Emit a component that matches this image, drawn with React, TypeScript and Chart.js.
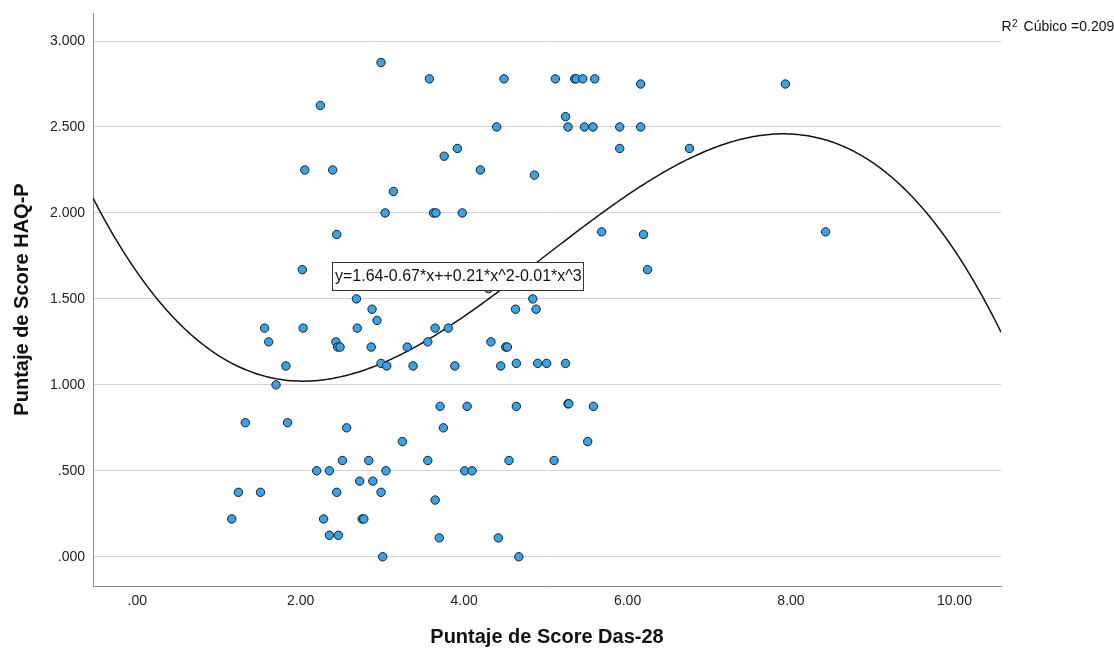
import { useEffect, useRef } from "react";
import { Chart, registerables } from "chart.js";

Chart.register(...registerables);

// X values: Puntaje de Score Das-28
const dasScores: number[] = [
  2.983, 3.575, 2.24, 2.05, 2.391, 3.134, 3.033, 3.625, 3.655, 2.441,
  2.02, 3.756, 3.917, 4.488, 5.116, 5.352, 5.372, 5.452, 5.598, 6.16,
  5.241, 4.398, 5.271, 5.472, 5.577, 5.904, 6.16, 5.904, 6.757, 4.198,
  4.86, 3.977, 5.683, 6.195, 6.245, 4.298, 4.84, 2.682, 2.873, 2.933,
  1.558, 2.03, 2.692, 3.645, 3.806, 1.608, 2.431, 2.451, 2.481, 2.863,
  3.304, 3.555, 1.819, 2.983, 3.053, 3.375, 1.698, 1.322, 1.839, 2.562,
  3.244, 3.706, 3.746, 2.511, 2.833, 3.555, 2.195, 2.351, 3.043, 2.722,
  2.883, 1.237, 1.508, 2.441, 2.983, 3.645, 1.156, 2.28, 2.752, 2.772,
  2.351, 2.461, 3.696, 3.003, 4.629, 4.88, 4.328, 4.509, 4.529, 3.886,
  4.448, 4.639, 4.9, 5.01, 5.241, 4.037, 4.639, 5.271, 5.281, 5.582,
  5.512, 4.549, 5.101, 4.007, 4.097, 4.418, 4.669, 7.931, 8.423,
];

// Y values: Puntaje de Score HAQ-P
const haqScores: number[] = [
  2.875, 2.78, 2.625, 2.25, 2.25, 2.125, 2.0, 2.0, 2.0, 1.875,
  1.67, 2.33, 2.375, 2.78, 2.78, 2.78, 2.78, 2.78, 2.78, 2.75,
  2.56, 2.5, 2.5, 2.5, 2.5, 2.5, 2.5, 2.375, 2.375, 2.25,
  2.22, 2.0, 1.89, 1.875, 1.67, 1.56, 1.5, 1.5, 1.44, 1.375,
  1.33, 1.33, 1.33, 1.33, 1.33, 1.25, 1.25, 1.22, 1.22, 1.22,
  1.22, 1.25, 1.11, 1.125, 1.11, 1.11, 1.0, 0.78, 0.78, 0.75,
  0.67, 0.875, 0.75, 0.56, 0.56, 0.56, 0.5, 0.5, 0.5, 0.44,
  0.44, 0.375, 0.375, 0.375, 0.375, 0.33, 0.22, 0.22, 0.22, 0.22,
  0.125, 0.125, 0.11, 0.0, 1.44, 1.44, 1.25, 1.22, 1.22, 1.11,
  1.11, 1.125, 1.125, 1.125, 1.125, 0.875, 0.875, 0.89, 0.89, 0.875,
  0.67, 0.56, 0.56, 0.5, 0.5, 0.11, 0.0, 2.75, 1.89,
];

const xTickValues: number[] = [0, 2, 4, 6, 8, 10];
const yTickValues: number[] = [0, 0.5, 1, 1.5, 2, 2.5, 3];

// Cubic fit coefficients (constant, x, x^2, x^3) as drawn by the fit line
const cubicCoefficients: number[] = [1.653, -0.681, 0.211, -0.01416];

const fitEquationText = "y=1.64-0.67*x++0.21*x^2-0.01*x^3";
const rSquaredText = " Cúbico =0.209";
const xAxisTitle = "Puntaje de Score Das-28";
const yAxisTitle = "Puntaje de Score HAQ-P";

const X_MIN = -0.542;
const X_MAX = 10.57;
const Y_MIN = -0.17;
const Y_MAX = 3.163;

const FONT = "Arial, 'Liberation Sans', sans-serif";

function cubic(x: number): number {
  return (
    cubicCoefficients[0] +
    cubicCoefficients[1] * x +
    cubicCoefficients[2] * x * x +
    cubicCoefficients[3] * x * x * x
  );
}

const annotationsPlugin = {
  id: "spssAnnotations",
  afterDatasetsDraw(chart: any) {
    const { ctx, chartArea, scales } = chart;
    const xs = scales.x;
    const ys = scales.y;
    ctx.save();
    // equation label box
    ctx.font = `16px ${FONT}`;
    const tw = ctx.measureText(fitEquationText).width;
    const bx = Math.round(xs.getPixelForValue(2.379)) + 0.5;
    const by = Math.round(ys.getPixelForValue(1.713)) + 0.5;
    const bw = Math.round(tw + 4);
    const bh = 28;
    ctx.fillStyle = "#ffffff";
    ctx.fillRect(bx, by, bw, bh);
    ctx.strokeStyle = "#333333";
    ctx.lineWidth = 1;
    ctx.strokeRect(bx, by, bw, bh);
    ctx.fillStyle = "#111111";
    ctx.textBaseline = "middle";
    ctx.textAlign = "left";
    ctx.fillText(fitEquationText, bx + 2.5, by + bh / 2 + 0.5);

    // R squared label
    const rx = chartArea.right + 0.5;
    const baseY = 31;
    ctx.textBaseline = "alphabetic";
    ctx.font = `14px ${FONT}`;
    ctx.fillStyle = "#111111";
    ctx.fillText("R", rx, baseY);
    const rw = ctx.measureText("R").width;
    ctx.font = `10px ${FONT}`;
    ctx.fillText("2", rx + rw + 0.3, baseY - 4);
    const sw = ctx.measureText("2").width;
    ctx.font = `14px ${FONT}`;
    ctx.fillText(rSquaredText, rx + rw + sw + 2.5, baseY);
    ctx.restore();
  },
};

export default function App() {
  const canvasRef = useRef<HTMLCanvasElement | null>(null);

  useEffect(() => {
    if (!canvasRef.current) return;

    const points = dasScores.map((x, i) => ({ x, y: haqScores[i] }));
    const curve: { x: number; y: number }[] = [];
    const steps = 400;
    for (let i = 0; i <= steps; i++) {
      const x = X_MIN + ((X_MAX - X_MIN) * i) / steps;
      curve.push({ x, y: cubic(x) });
    }

    const chart = new Chart(canvasRef.current, {
      type: "scatter",
      data: {
        datasets: [
          {
            type: "scatter",
            data: points,
            backgroundColor: "#32a4f0",
            borderColor: "#1b1b1b",
            borderWidth: 1,
            pointRadius: 4.2,
            order: 0,
          },
          {
            type: "line",
            data: curve,
            borderColor: "#111111",
            borderWidth: 1.5,
            pointRadius: 0,
            tension: 0,
            fill: false,
            order: 1,
          } as any,
        ],
      },
      options: {
        animation: false,
        responsive: true,
        maintainAspectRatio: false,
        devicePixelRatio: 1,
        layout: { padding: { left: 0, right: 113, top: 13, bottom: 0 } },
        plugins: {
          legend: { display: false },
          tooltip: { enabled: false },
        },
        scales: {
          x: {
            type: "linear",
            min: X_MIN,
            max: X_MAX,
            afterFit(scale: any) {
              scale.height = 64;
              scale.paddingLeft = 0;
              scale.paddingRight = 0;
            },
            afterBuildTicks(scale: any) {
              scale.ticks = xTickValues.map((v) => ({ value: v }));
            },
            grid: { display: true, color: "rgba(0,0,0,0)", drawTicks: false },
            border: { display: true, color: "#8a8a8a", width: 1 },
            ticks: {
              padding: 7,
              color: "#222222",
              font: { size: 14, family: FONT },
              maxRotation: 0,
              callback: (v: any) => Number(v).toFixed(2).replace(/^0\./, "."),
            },
            title: {
              display: true,
              text: xAxisTitle,
              color: "#111111",
              font: { size: 20, weight: "bold", family: FONT },
              padding: { top: 0, bottom: 1 },
            },
          },
          y: {
            type: "linear",
            min: Y_MIN,
            max: Y_MAX,
            afterFit(scale: any) {
              scale.width = 93;
              scale.paddingTop = 0;
              scale.paddingBottom = 0;
            },
            afterBuildTicks(scale: any) {
              scale.ticks = yTickValues.map((v) => ({ value: v }));
            },
            grid: { color: "#d2d2d2", lineWidth: 1, drawTicks: false },
            border: { display: true, color: "#8a8a8a", width: 1 },
            ticks: {
              padding: 8,
              color: "#222222",
              font: { size: 14, family: FONT },
              callback: (v: any) => Number(v).toFixed(3).replace(/^0\./, "."),
            },
            title: {
              display: true,
              text: yAxisTitle,
              color: "#111111",
              font: { size: 20, weight: "bold", family: FONT },
              padding: { top: 10, bottom: 0 },
            },
          },
        },
      },
      plugins: [annotationsPlugin],
    });

    return () => chart.destroy();
  }, []);

  return (
    <div
      style={{
        position: "absolute",
        left: 0,
        top: 0,
        width: 1114,
        height: 650,
        background: "#ffffff",
      }}
    >
      <canvas ref={canvasRef} />
    </div>
  );
}
